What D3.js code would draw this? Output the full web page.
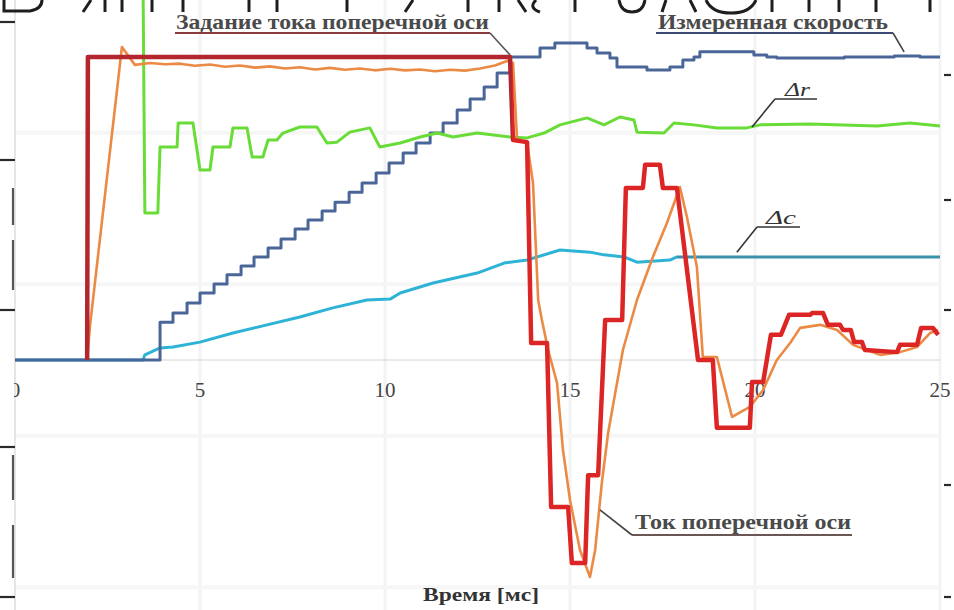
<!DOCTYPE html>
<html><head><meta charset="utf-8">
<script src="https://cdn.jsdelivr.net/npm/d3@7"></script>
<style>html,body{margin:0;padding:0;background:#fff;}svg{display:block;}</style>
</head><body>
<svg id="chart" width="954" height="610"></svg>
<script>
// ---------- data ----------
const xTicks = [0, 5, 10, 15, 20, 25];
const xTickLabels = ["0", "5", "10", "15", "20", "25"];
const gridValues = [-75, -25, 25, 75];

// Задание тока поперечной оси (setpoint, %)
const refTime  = [1.95,1.97,13.38,13.46,13.84,13.95,14.38,14.49,14.95,15.05,15.41,15.49,15.76,15.95,16.41,16.51,16.97,17.03,17.43,17.51,17.89,18.46,18.86,18.97,19.86,19.92,20.22,20.43,20.70,20.92,21.49,21.54,21.84,21.97,22.30,22.38,22.59,22.68,22.89,22.97,23.84,23.92,24.38,24.49,24.81,24.95];
const refValue = [0,100,100,72.6,71.9,5.6,5.6,-48.5,-48.5,-67.0,-67.0,-38.0,-38.0,13.2,13.2,56.8,56.8,64.4,64.4,56.8,56.8,0,0,-22.4,-22.4,-7.3,-7.3,8.3,8.3,14.9,14.9,15.5,15.5,11.6,11.6,9.9,9.9,5.9,5.9,3.3,2.6,5.0,5.0,10.6,10.6,8.3];

// Ток поперечной оси (measured current, %)
const curTime  = [1.95,2.03,2.89,3.24,3.65,4.05,4.46,4.86,5.27,5.68,6.08,6.49,6.89,7.30,7.70,8.11,8.51,8.92,9.32,9.73,10.14,10.54,10.95,11.35,11.76,12.16,12.57,12.97,13.30,13.46,13.57,13.84,14.00,14.14,14.24,14.41,14.65,14.81,15.00,15.27,15.54,15.68,15.86,16.03,16.43,16.81,17.24,17.62,17.97,18.16,18.43,18.59,18.97,19.38,19.86,20.22,20.59,20.95,21.22,21.76,22.22,22.65,23.38,23.92,24.38,24.73,24.95];
const curValue = [0,11.6,103.3,97.4,98.0,97.6,97.8,97.1,97.5,96.8,97.2,96.5,96.9,96.2,96.6,95.9,96.4,95.8,96.2,95.6,96.1,95.6,95.9,95.3,95.8,95.5,96.2,97.2,98.7,98.0,72.6,71.6,58.4,19.8,13.2,3.3,-7.6,-29.7,-46.2,-62.7,-71.6,-62.7,-40.6,-24.1,3.3,19.8,34.0,45.2,57.1,47.2,30.7,1.0,1.0,-18.8,-15.5,-9.9,0,5.6,10.6,11.6,9.9,5.0,1.7,2.6,4.3,8.9,9.9];

// Измеренная скорость (step signal, %)
const speedTime  = [0,3.92,4.27,4.65,5.00,5.38,5.73,6.11,6.46,6.84,7.19,7.57,7.92,8.30,8.65,9.03,9.38,9.76,10.11,10.49,10.84,11.22,11.57,11.95,12.30,12.68,13.03,13.38,14.19,14.59,15.46,15.73,16.08,16.27,17.08,17.70,18.05,18.35,18.51,19.97,20.32,20.59,22.41,23.76,24.46,25.0];
const speedValue = [0,12.5,15.5,18.8,22.1,25.1,28.1,31.0,34.0,37.0,39.9,43.2,46.2,49.2,52.1,55.4,58.4,61.7,65.0,68.3,71.6,74.9,78.2,82.5,86.1,90.1,94.7,100,103.0,104.6,103.0,101.3,99.7,96.7,95.7,96.7,99.0,100,101.7,100.7,100,99.7,100,100.3,100,100];

// Δc
const dcTime  = [0,3.46,3.51,3.92,4.27,5.0,5.89,6.81,7.70,8.59,9.51,10.14,10.41,11.30,12.49,13.22,13.84,14.73,15.54,15.92,16.46,16.81,17.70,17.89,25.0];
const dcValue = [0,0,1.7,4.0,4.3,5.9,8.9,11.6,14.2,17.2,19.8,20.1,22.1,25.4,28.7,32.0,33.0,36.3,35.6,34.7,34.0,32.3,33.0,34.0,34.0];

// Δr
const drTime  = [3.46,3.51,3.86,3.92,4.38,4.41,4.81,5.0,5.27,5.35,5.81,5.89,6.27,6.41,6.70,6.84,7.08,7.24,7.70,8.16,8.43,8.70,9.05,9.59,9.86,10.41,10.95,11.41,11.84,12.49,13.38,13.84,14.30,14.73,15.46,15.92,16.35,16.73,16.81,17.54,17.81,18.35,18.97,19.78,20.14,21.49,23.30,24.19,25.0];
const drValue = [125,48.5,48.5,70.3,70.3,78.2,78.2,62.7,62.7,70.3,70.3,76.6,76.6,67.0,67.0,72.6,72.6,74.9,76.9,76.9,71.6,71.9,75.2,76.6,70.3,71.6,73.6,74.9,73.6,74.9,73.6,73.3,74.9,77.6,79.9,77.6,80.2,79.2,75.2,74.9,78.2,77.6,76.6,76.6,77.6,77.9,77.2,78.2,77.2];

// ---------- chart ----------
const W = 954, H = 610;
const svg = d3.select("#chart");
const x = d3.scaleLinear().domain([0, 25]).range([15, 940]);
const y = d3.scaleLinear().domain([0, 100]).range([360, 57]);
const zip = (ts, vs) => ts.map((t, i) => ({t, v: vs[i]}));
const FONT = "'Liberation Serif','Times New Roman',serif";

svg.append("rect").attr("width", W).attr("height", H).attr("fill", "#fff");

const defs = svg.append("defs");
function splitGrad(id, t, c1, c2) {
  const g = defs.append("linearGradient").attr("id", id)
    .attr("gradientUnits", "userSpaceOnUse")
    .attr("x1", 0).attr("x2", W).attr("y1", 0).attr("y2", 0);
  const f = x(t) / W;
  g.append("stop").attr("offset", f).attr("stop-color", c1);
  g.append("stop").attr("offset", f).attr("stop-color", c2);
}
splitGrad("gRef", 13.42, "#b3262d", "#dc2525");
splitGrad("gDc", 17.9, "#2cb3d5", "#3b90ab");
defs.append("clipPath").attr("id", "cut0").append("rect")
  .attr("x", 14).attr("y", 0).attr("width", W).attr("height", H);

// grid
const grid = svg.append("g");
grid.selectAll("line.v").data(xTicks.slice(1)).join("line")
  .attr("x1", d => x(d)).attr("x2", d => x(d)).attr("y1", 0).attr("y2", H)
  .attr("stroke", "#f3f3f3").attr("stroke-width", 3);
grid.selectAll("line.h").data(gridValues).join("line")
  .attr("x1", x(0)).attr("x2", x(25)).attr("y1", d => y(d)).attr("y2", d => y(d))
  .attr("stroke", "#f6f6f6").attr("stroke-width", 4);
grid.append("line").attr("x1", x(0)).attr("x2", x(25)).attr("y1", y(0)).attr("y2", y(0))
  .attr("stroke", "#d4d4d4").attr("stroke-width", 1);
grid.append("line").attr("x1", x(0)).attr("x2", x(0)).attr("y1", 0).attr("y2", H)
  .attr("stroke", "#e6e6e6").attr("stroke-width", 2);

// x axis tick labels (drawn under the curves)
svg.append("g").attr("clip-path", "url(#cut0)").selectAll("text").data(xTicks).join("text")
  .attr("x", d => x(d)).attr("y", 397)
  .attr("text-anchor", "middle")
  .attr("font-family", FONT).attr("font-size", 21).attr("fill", "#444")
  .text((d, i) => xTickLabels[i]);

// curves
const line = d3.line().x(d => x(d.t)).y(d => y(d.v));
const stepLine = d3.line().x(d => x(d.t)).y(d => y(d.v)).curve(d3.curveStepAfter);
const curves = svg.append("g").attr("fill", "none").attr("stroke-linejoin", "round");

curves.append("path").datum(zip(dcTime, dcValue)).attr("d", line)
  .attr("stroke", "url(#gDc)").attr("stroke-width", 3);
curves.append("path").datum(zip(speedTime, speedValue)).attr("d", stepLine)
  .attr("stroke", "#4a6699").attr("stroke-width", 3);
curves.append("path").datum(zip(drTime, drValue)).attr("d", line)
  .attr("stroke", "#69dc38").attr("stroke-width", 3);
curves.append("path").datum(zip(curTime, curValue)).attr("d", line)
  .attr("stroke", "#eb8a45").attr("stroke-width", 2.6);
curves.append("path").datum(zip(refTime, refValue)).attr("d", line)
  .attr("stroke", "url(#gRef)").attr("stroke-width", 4.5);

// annotations
const ann = svg.append("g");
function label(txt, tx, ty, len, opts = {}) {
  ann.append("text").attr("x", tx).attr("y", ty)
    .attr("font-family", FONT).attr("font-size", opts.size || 20)
    .attr("font-weight", opts.weight || "bold")
    .attr("font-style", opts.style || "normal")
    .attr("fill", opts.fill || "#4a4a4a")
    .attr("textLength", len).attr("lengthAdjust", "spacingAndGlyphs")
    .text(txt);
}
function leader(x1, x2, yU, tip, cU, cL, wU) {
  ann.append("line").attr("x1", x1).attr("x2", x2).attr("y1", yU).attr("y2", yU)
    .attr("stroke", cU).attr("stroke-width", wU || 2);
  ann.append("line").attr("x1", tip.from).attr("y1", yU)
    .attr("x2", x(tip.t)).attr("y2", y(tip.v))
    .attr("stroke", cL).attr("stroke-width", 1.6);
}
label("Задание тока поперечной оси", 176, 29, 313);
leader(175, 490, 33, {from: 490, t: 13.38, v: 100.7}, "#8b3a3d", "#555");
label("Измеренная скорость", 658, 29, 230);
leader(656, 893, 33, {from: 893, t: 24.03, v: 101.7}, "#3d4a78", "#444");
label("Δr", 785, 96, 25, {style: "italic", weight: "normal", size: 19, fill: "#333"});
leader(775, 817, 99, {from: 775, t: 19.92, v: 76.9}, "#333", "#333", 1.6);
label("Δc", 766, 224, 30, {style: "italic", weight: "normal", size: 19, fill: "#333"});
leader(757, 800, 227, {from: 757, t: 19.51, v: 35.6}, "#333", "#333", 1.6);
label("Ток поперечной оси", 635, 529, 216);
leader(632, 852, 535, {from: 632, t: 15.81, v: -49.5}, "#6b5656", "#444");
label("Время [мс]", 423, 601, 116, {size: 18, fill: "#333"});

// cropped frame remnants (left / right edge ticks)
const edge = svg.append("g").attr("stroke", "#2a2a2a").attr("stroke-width", 2.2);
[22, 160, 310, 447, 597].forEach(v => edge.append("line").attr("x1", 0).attr("x2", 15).attr("y1", v).attr("y2", v));
[[188, 225], [240, 290], [455, 500], [525, 578]].forEach(s => edge.append("line")
  .attr("x1", 13).attr("x2", 13).attr("y1", s[0]).attr("y2", s[1]).attr("stroke", "#555"));
[75, 200, 310, 485, 597].forEach(v => edge.append("line").attr("x1", 944).attr("x2", 951).attr("y1", v).attr("y2", v));

// cropped heading remnants along the top edge
const head = svg.append("g").attr("fill", "none").attr("stroke", "#1e1e1e").attr("stroke-width", 3);
head.append("path").attr("d", "M4,0 L4,11 L30,11 Q42,9 42,0");
[105, 122, 152, 183, 249, 277, 347, 468, 499, 575, 772, 809, 839, 876, 930].forEach(px =>
  head.append("line").attr("x1", px).attr("x2", px).attr("y1", 0).attr("y2", 12));
[85, 407].forEach(px => head.append("line").attr("x1", px + 6).attr("x2", px - 2).attr("y1", 0).attr("y2", 12));
[523].forEach(px => head.append("line").attr("x1", px - 5).attr("x2", px + 3).attr("y1", 0).attr("y2", 12));
head.append("path").attr("d", "M536,0 Q528,8 540,12");
head.append("path").attr("d", "M619,0 Q621,12 632,12 Q643,12 645,0");
head.append("path").attr("d", "M666,0 L662,12 M690,0 L696,12");
head.append("path").attr("d", "M706,0 Q712,13 731,13 Q750,13 756,0");
</script>
</body></html>
